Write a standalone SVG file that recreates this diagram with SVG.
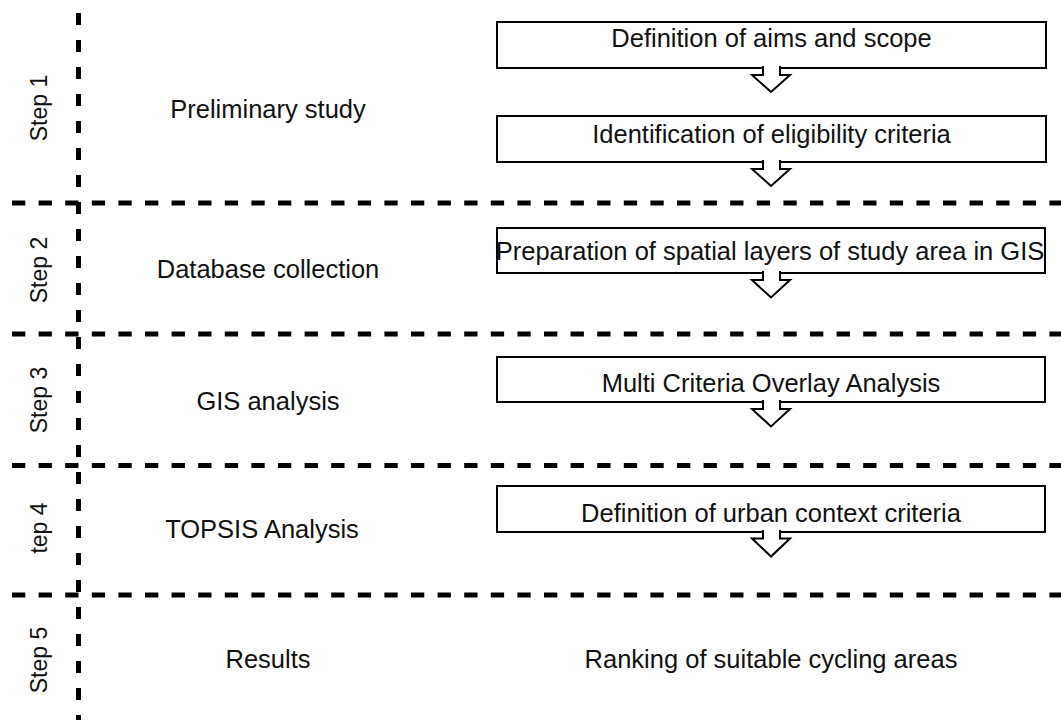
<svg xmlns="http://www.w3.org/2000/svg" width="1061" height="720" viewBox="0 0 1061 720">
  <style>
    .bg { fill: #ffffff; }
    .sep-h { stroke: #000; stroke-width: 5; stroke-dasharray: 13.3 13.3; fill: none; }
    .sep-v { stroke: #000; stroke-width: 5; stroke-dasharray: 12 15; fill: none; }
    .box { fill: #ffffff; stroke: #000; stroke-width: 2; }
    .arrow { fill: #ffffff; stroke: #000; stroke-width: 2; stroke-linejoin: miter; }
    .label { font-family: "Liberation Sans", Arial, sans-serif; font-size: 25.5px; fill: #111; text-anchor: middle; }
    .step { font-family: "Liberation Sans", Arial, sans-serif; font-size: 23px; fill: #111; text-anchor: middle; }
  </style>

  <rect class="bg" x="0" y="0" width="1061" height="720"/>

  <!-- Row separators and step column divider -->
  <g id="grid">
    <line class="sep-v" x1="78.5" y1="13" x2="78.5" y2="720"/>
    <line class="sep-h" x1="12" y1="203" x2="1061" y2="203"/>
    <line class="sep-h" x1="12" y1="334" x2="1061" y2="334"/>
    <line class="sep-h" x1="12" y1="465.5" x2="1061" y2="465.5"/>
    <line class="sep-h" x1="12" y1="595" x2="1061" y2="595"/>
  </g>

  <!-- Step labels -->
  <g id="step-labels">
    <text class="step" transform="translate(46.5,108) rotate(-90)">Step 1</text>
    <text class="step" transform="translate(46.5,270) rotate(-90)">Step 2</text>
    <text class="step" transform="translate(46.5,400) rotate(-90)">Step 3</text>
    <text class="step" transform="translate(46.5,528) rotate(-90)">tep 4</text>
    <text class="step" transform="translate(46.5,660) rotate(-90)">Step 5</text>
  </g>

  <!-- Phase names -->
  <g id="phase-labels">
    <text class="label" x="268" y="117.5">Preliminary study</text>
    <text class="label" x="268" y="278">Database collection</text>
    <text class="label" x="268" y="409.5">GIS analysis</text>
    <text class="label" x="262" y="538">TOPSIS Analysis</text>
    <text class="label" x="268" y="668">Results</text>
  </g>

  <!-- Process boxes -->
  <g id="node-aims">
    <rect class="box" x="497" y="22" width="549" height="46"/>
    <text class="label" x="771.5" y="47">Definition of aims and scope</text>
  </g>
  <g id="node-eligibility">
    <rect class="box" x="497" y="116" width="549" height="46"/>
    <text class="label" x="771.5" y="143">Identification of eligibility criteria</text>
  </g>
  <g id="node-layers">
    <rect class="box" x="497" y="228" width="548" height="45"/>
    <text class="label" x="770" y="260">Preparation of spatial layers of study area in GIS</text>
  </g>
  <g id="node-overlay">
    <rect class="box" x="497" y="357" width="548" height="45"/>
    <text class="label" x="771" y="392">Multi Criteria Overlay Analysis</text>
  </g>
  <g id="node-urban">
    <rect class="box" x="497" y="486" width="548" height="46"/>
    <text class="label" x="771" y="521.5">Definition of urban context criteria</text>
  </g>
  <g id="node-ranking">
    <text class="label" x="771" y="668">Ranking of suitable cycling areas</text>
  </g>

  <!-- Hollow down arrows below each box -->
  <g id="connectors">
    <path class="arrow" d="M763,66 V75 H752 L771,92 L790,75 H780 V66"/>
    <path class="arrow" d="M763,160 V169 H752 L771,186 L790,169 H780 V160"/>
    <path class="arrow" d="M763,271 V280 H752 L771,297.5 L790,280 H780 V271"/>
    <path class="arrow" d="M763,400 V409 H752 L771,426.5 L790,409 H780 V400"/>
    <path class="arrow" d="M763,530 V538.5 H752 L771,556.5 L790,538.5 H780 V530"/>
  </g>
</svg>
